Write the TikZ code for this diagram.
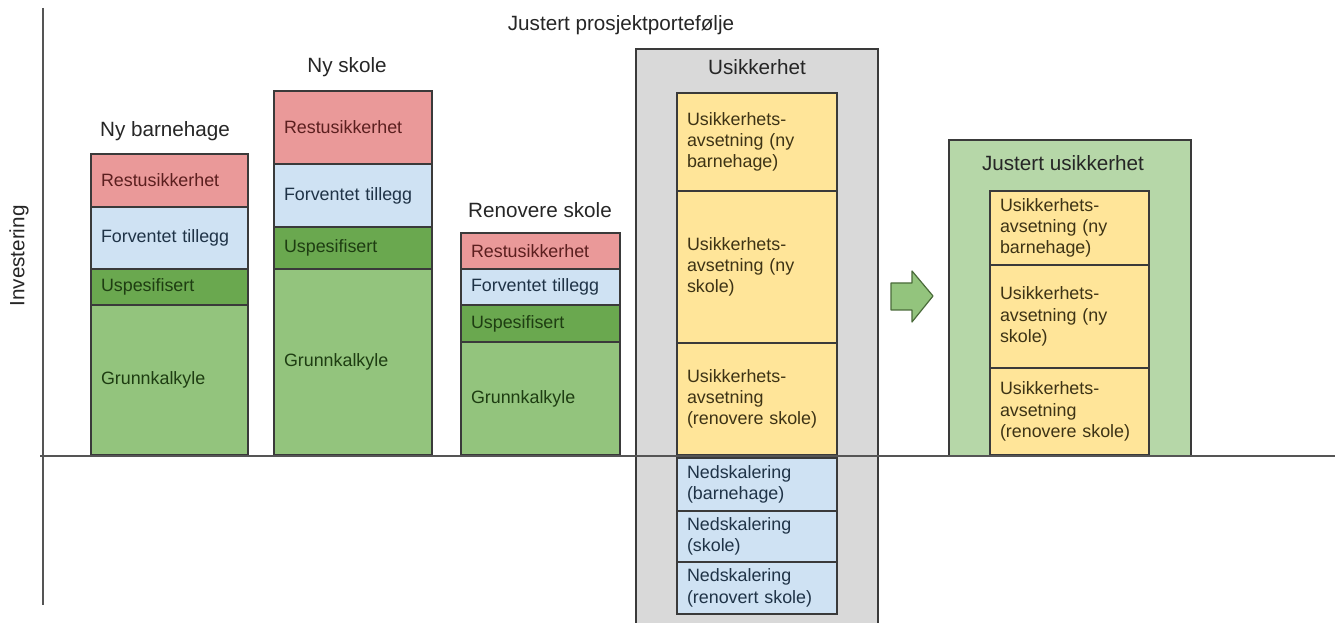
\documentclass[tikz,border=0pt]{standalone}
\usepackage{fontspec}
\setmainfont{Liberation Sans}
\definecolor{bordr}{HTML}{3A3A3A}
\definecolor{redf}{HTML}{EA9999}
\definecolor{redt}{HTML}{5B1F1F}
\definecolor{bluef}{HTML}{CFE2F3}
\definecolor{bluet}{HTML}{1F3347}
\definecolor{dgreenf}{HTML}{6AA84F}
\definecolor{lgreenf}{HTML}{93C47D}
\definecolor{greent}{HTML}{1E3D12}
\definecolor{yellowf}{HTML}{FFE599}
\definecolor{yellowt}{HTML}{3D3315}
\definecolor{grayf}{HTML}{D9D9D9}
\definecolor{rgreenf}{HTML}{B6D7A8}
\definecolor{arrowd}{HTML}{4A6B3A}
\definecolor{axisc}{HTML}{555555}
\newcommand\segbox[7]{%
  \pgfmathsetmacro\sbw{(#4-#2)*0.75}%
  \pgfmathsetmacro\sbh{(#5-#3)*0.75}%
  \pgfmathsetmacro\sbt{(#4-#2)*0.75-15}%
  \node[#6, minimum width=\sbw pt, minimum height=\sbh pt, text width=\sbt pt] (#1) at ({(#2+#4)/2},{(#3+#5)/2}) {#7};}
\begin{document}
\begin{tikzpicture}[x=0.75pt,y=-0.75pt,
  seg/.style={draw=bordr, line width=0.8pt, inner xsep=7.5pt, inner ysep=0pt, align=left,
    font=\fontsize{13.4}{16}\selectfont},
  rest/.style={seg, fill=redf, text=redt},
  forv/.style={seg, fill=bluef, text=bluet},
  uspe/.style={seg, fill=dgreenf, text=greent},
  grunn/.style={seg, fill=lgreenf, text=greent},
  usa/.style={seg, fill=yellowf, text=yellowt},
  ned/.style={seg, fill=bluef, text=bluet},
  graybox/.style={seg, fill=grayf},
  greenbox/.style={seg, fill=rgreenf},
  ttl/.style={font=\fontsize{15.5}{18}\selectfont, text=black!85, inner sep=0pt},
  axis/.style={draw=axisc, line width=1.1pt},
  blockarrow/.style={draw=arrowd, line width=0.9pt, fill=lgreenf, line join=round}]
\useasboundingbox (0,0) rectangle (1335,623);
\fill[white] (0,0) rectangle (1335,623);

% Ny barnehage
\segbox{b1r}{91}{154}{248}{207}{rest}{Restusikkerhet}
\segbox{b1f}{91}{207}{248}{269}{forv}{Forventet tillegg}
\segbox{b1u}{91}{269}{248}{305}{uspe}{Uspesifisert}
\segbox{b1g}{91}{305}{248}{455}{grunn}{Grunnkalkyle}
\node[ttl] (t1) at (165,131) {Ny barnehage};

% Ny skole
\segbox{b2r}{274}{91}{432}{164}{rest}{Restusikkerhet}
\segbox{b2f}{274}{164}{432}{227}{forv}{Forventet tillegg}
\segbox{b2u}{274}{227}{432}{269}{uspe}{Uspesifisert}
\segbox{b2g}{274}{269}{432}{455}{grunn}{Grunnkalkyle}
\node[ttl] (t2) at (347,67) {Ny skole};

% Renovere skole
\segbox{b3r}{461}{233}{620}{269}{rest}{Restusikkerhet}
\segbox{b3f}{461}{269}{620}{305}{forv}{Forventet tillegg}
\segbox{b3u}{461}{305}{620}{342}{uspe}{Uspesifisert}
\segbox{b3g}{461}{342}{620}{455}{grunn}{Grunnkalkyle}
\node[ttl] (t3) at (540,210) {Renovere skole};

\node[ttl] (tp) at (621,25) {Justert prosjektportefølje};

% Usikkerhet
\segbox{gb}{636}{49}{878}{627}{graybox}{}
\node[ttl] (tu) at (757,67) {Usikkerhet};
\segbox{u1}{677}{93}{837}{191}{usa}{Usikkerhets-\\avsetning (ny\\barnehage)}
\segbox{u2}{677}{191}{837}{343}{usa}{Usikkerhets-\\avsetning (ny\\skole)}
\segbox{u3}{677}{343}{837}{455}{usa}{Usikkerhets-\\avsetning\\(renovere skole)}
\segbox{n1}{677}{458}{837}{511}{ned}{Nedskalering\\(barnehage)}
\segbox{n2}{677}{511}{837}{562}{ned}{Nedskalering\\(skole)}
\segbox{n3}{677}{562}{837}{614}{ned}{Nedskalering\\(renovert skole)}

% Arrow
\draw[blockarrow] (891,283) -- (912,283) -- (912,271) -- (933,296) -- (912,322) -- (912,310) -- (891,310) -- cycle;

% Justert usikkerhet
\segbox{jb}{949}{140}{1191}{456}{greenbox}{}
\node[ttl] (tj) at (1063,163) {Justert usikkerhet};
\segbox{j1}{990}{191}{1149}{265}{usa}{Usikkerhets-\\avsetning (ny\\barnehage)}
\segbox{j2}{990}{265}{1149}{368}{usa}{Usikkerhets-\\avsetning (ny\\skole)}
\segbox{j3}{990}{368}{1149}{455}{usa}{Usikkerhets-\\avsetning\\(renovere skole)}

% Axes
\coordinate (ytop) at (43,8);
\coordinate (ybot) at (43,605);
\coordinate (xl) at (40,456);
\coordinate (xr) at (1335,456);
\draw[axis] (ytop) -- (ybot);
\draw[axis] (xl) -- (xr);
\node[ttl, rotate=90] (inv) at (19,256) {Investering};
\end{tikzpicture}
\end{document}
